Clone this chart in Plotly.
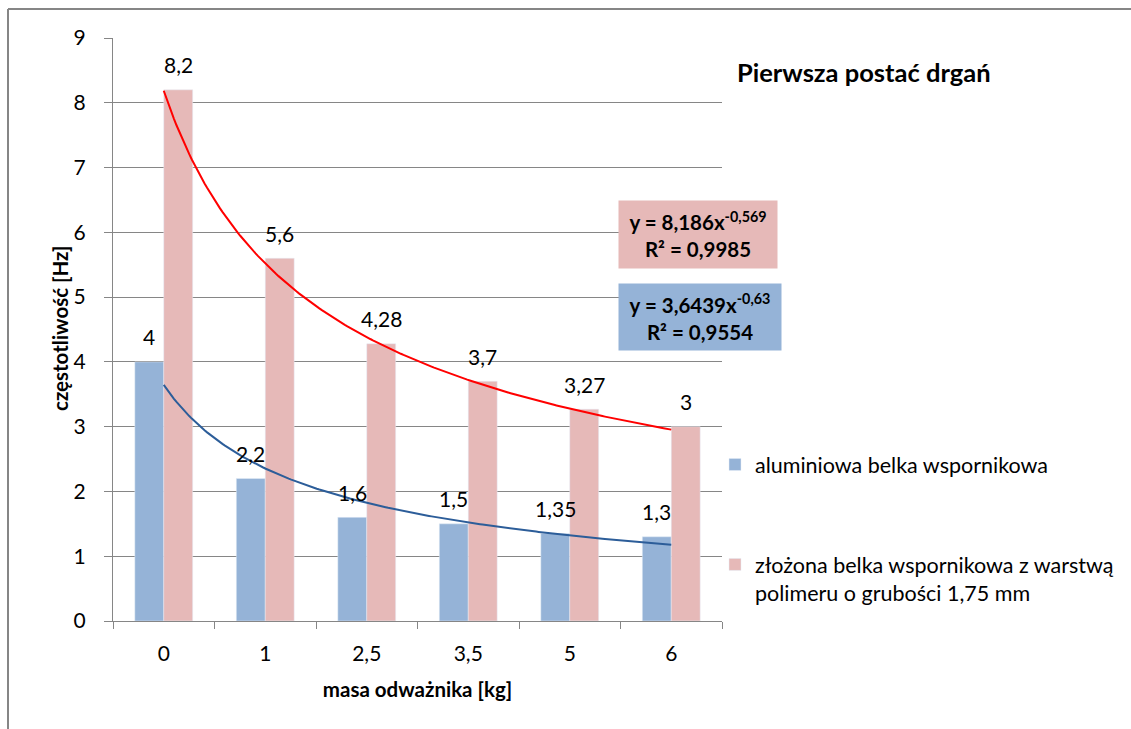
import numpy as np
import plotly.graph_objects as go

categories = ["0", "1", "2,5", "3,5", "5", "6"]
alu_values = [4, 2.2, 1.6, 1.5, 1.35, 1.3]
comp_values = [8.2, 5.6, 4.28, 3.7, 3.27, 3]
series_names = ["aluminiowa belka wspornikowa",
                "złożona belka wspornikowa z warstwą<br>polimeru o grubości 1,75 mm"]
eq_comp = "y = 8,186x<sup>-0,569</sup><br>R² = 0,9985"
eq_alu = "y = 3,6439x<sup>-0,63</sup><br>R² = 0,9554"
y_ticks = list(range(0, 10))

FONT = "Lato, 'Open Sans', sans-serif"
BLUE = "#95B3D7"
PINK = "#E6B9B8"
GRID = "#868686"
BARGAP = 0.43

xpos = np.arange(len(categories))


def label(v):
    return f"{v:g}".replace(".", ",")


def power_fit(vals):
    # Excel power trendline: least squares on ln(y) vs ln(x), x = 1..n
    xs = np.arange(1, len(vals) + 1)
    b, ln_a = np.polyfit(np.log(xs), np.log(vals), 1)
    t = np.linspace(1, len(vals), 200)
    return t - 1, np.exp(ln_a) * t ** b


fig = go.Figure()
fig.add_trace(go.Bar(x=xpos, y=alu_values, name=series_names[0], marker_color=BLUE,
                     legendgroup="a", hoverinfo="y"))
fig.add_trace(go.Bar(x=xpos, y=comp_values, name=series_names[1], marker_color=PINK,
                     legendgroup="b", hoverinfo="y"))

tx, ty = power_fit(comp_values)
fig.add_trace(go.Scatter(x=tx, y=ty, mode="lines", line=dict(color="#FF0000", width=2),
                         showlegend=False, hoverinfo="skip"))
tx, ty = power_fit(alu_values)
fig.add_trace(go.Scatter(x=tx, y=ty, mode="lines", line=dict(color="#2C5D99", width=2),
                         showlegend=False, hoverinfo="skip"))

# data labels above each bar
half = (1 - BARGAP) / 4
for vals, off in ((alu_values, -half), (comp_values, half)):
    for i, v in enumerate(vals):
        fig.add_annotation(x=xpos[i] + off, y=v, text=label(v), showarrow=False,
                           xanchor="center", yanchor="middle", yshift=25,
                           font=dict(size=21, family=FONT, color="black"))

L, R, T, B = 113, 722, 38, 621
W, H = 1131, 729


def px(p):
    return (p - L) / (R - L)


def py(p):
    return (B - p) / (B - T)


fig.update_layout(
    width=W, height=H,
    margin=dict(l=L, r=W - R, t=T, b=H - B, autoexpand=False),
    paper_bgcolor="white", plot_bgcolor="white",
    font=dict(family=FONT, size=21, color="black"),
    barmode="group", bargap=BARGAP, bargroupgap=0,
    showlegend=True,
    legend=dict(x=px(715), y=py(444), xanchor="left", yanchor="top",
                traceorder="grouped", tracegroupgap=69, valign="top",
                font=dict(size=21.5, family=FONT), bgcolor="rgba(0,0,0,0)",
                itemwidth=30),
    xaxis=dict(range=[-0.5, len(categories) - 0.5], tickmode="array",
               tickvals=list(xpos), ticktext=categories, ticks="",
               showgrid=False, zeroline=False, showline=True, linecolor=GRID,
               linewidth=1, ticklabelstandoff=14,
               tickfont=dict(size=21, family=FONT),
               minor=dict(tickmode="array",
                          tickvals=[i - 0.5 for i in range(len(categories) + 1)],
                          ticks="outside", ticklen=7, tickcolor=GRID, tickwidth=1,
                          showgrid=False),
               title=dict(text="<b>masa odważnika [kg]</b>", font=dict(size=20.5, family=FONT),
                          standoff=18)),
    yaxis=dict(range=[0, 9], tickmode="array", tickvals=y_ticks,
               ticks="outside", ticklen=8, tickcolor=GRID, tickwidth=1,
               showgrid=True, gridcolor=GRID, gridwidth=1, zeroline=False,
               showline=True, linecolor=GRID, linewidth=1,
               ticklabelstandoff=14, tickfont=dict(size=21, family=FONT)),
    separators=", ",
)

fig.add_annotation(text="<b>częstotliwość [Hz]</b>", xref="paper", yref="paper",
                   x=px(60), y=py(329), xanchor="center", yanchor="middle",
                   textangle=-90, showarrow=False, font=dict(size=20.5, family=FONT))
fig.add_annotation(text="<b>Pierwsza postać drgań</b>", xref="paper", yref="paper",
                   x=px(735), y=py(72), xanchor="left", yanchor="middle",
                   showarrow=False, font=dict(size=25.5, family=FONT))
fig.add_annotation(text=f"<b>{eq_comp}</b>", xref="paper", yref="paper",
                   x=px(698), y=py(234.5), xanchor="center", yanchor="middle",
                   showarrow=False, bgcolor=PINK, width=150, height=59, borderpad=4,
                   align="center", font=dict(size=20.5, family=FONT))
fig.add_annotation(text=f"<b>{eq_alu}</b>", xref="paper", yref="paper",
                   x=px(700), y=py(317), xanchor="center", yanchor="middle",
                   showarrow=False, bgcolor=BLUE, width=154, height=58, borderpad=4,
                   align="center", font=dict(size=20.5, family=FONT))

# outer chart border (top and left edges visible)
fig.add_shape(type="line", xref="paper", yref="paper", x0=px(8), x1=px(1131),
              y0=py(9), y1=py(9), line=dict(color=GRID, width=2))
fig.add_shape(type="line", xref="paper", yref="paper", x0=px(8), x1=px(8),
              y0=py(9), y1=py(729), line=dict(color=GRID, width=2))

fig.write_html("out.html", config={"displayModeBar": False},
               post_script="document.body.style.margin='0';document.body.style.overflow='hidden';")
